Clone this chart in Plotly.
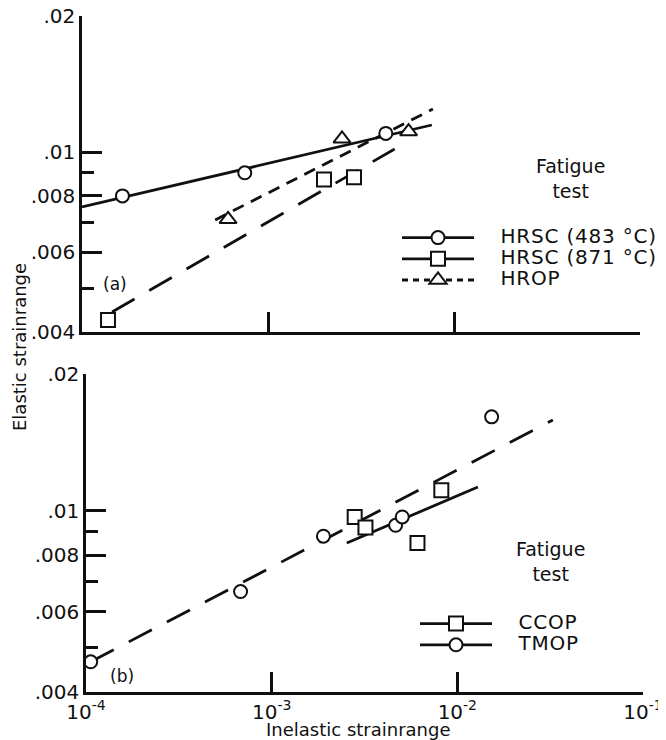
import math
import plotly.graph_objects as go

# ---------------- data: panel (a) ----------------
hrsc483_x = [1.65e-4, 7.5e-4, 4.3e-3]
hrsc483_y = [0.0080, 0.0090, 0.0110]
hrsc483_fit_x = [1.0e-4, 7.6e-3]
hrsc483_fit_y = [0.00756, 0.01148]

hrsc871_x = [1.38e-4, 2.0e-3, 2.9e-3]
hrsc871_y = [0.00425, 0.0087, 0.0088]
hrsc871_fit_x = [1.45e-4, 4.8e-3]
hrsc871_fit_y = [0.00443, 0.01016]

hrop_x = [6.1e-4, 2.5e-3, 5.7e-3]
hrop_y = [0.0071, 0.0107, 0.0111]
hrop_fit_x = [5.2e-4, 7.7e-3]
hrop_fit_y = [0.00708, 0.01245]

# ---------------- data: panel (b) ----------------
ccop_x = [2.8e-3, 3.2e-3, 6.1e-3, 8.2e-3]
ccop_y = [0.0097, 0.0092, 0.0085, 0.0111]
ccop_fit_x = [2.54e-3, 1.29e-2]
ccop_fit_y = [0.0085, 0.01129]

tmop_x = [1.06e-4, 6.8e-4, 1.9e-3, 4.65e-3, 5.05e-3, 1.53e-2]
tmop_y = [0.00466, 0.00665, 0.0088, 0.0093, 0.0097, 0.0161]
tmop_fit_x = [1.06e-4, 3.27e-2]
tmop_fit_y = [0.00466, 0.01585]

# ---------------- ticks ----------------
y_major_vals = [0.004, 0.006, 0.008, 0.01, 0.02]
y_major_text = [".004", ".006", ".008", ".01", ".02"]
y_minor_vals = [0.005, 0.007, 0.009]
x_top_vals = [1e-3, 1e-2, 1e-1]
x_bot_vals = [1e-4, 1e-3, 1e-2, 1e-1]
x_bot_text = ["10<sup>-4</sup>", "10<sup>-3</sup>", "10<sup>-2</sup>", "10<sup>-1</sup>"]

INK = "#101010"
FONT = "DejaVu Sans"
OFF = 8                      # page body margin of the browser
W, H = 666 - OFF, 740 - OFF  # figure fills the rest of the window

LONG = "26px,17px"
SHORT = "12px,8px"

fig = go.Figure()


def fit(x, y, dash, xa, ya):
    fig.add_trace(go.Scatter(x=x, y=y, mode="lines", xaxis=xa, yaxis=ya,
                             line=dict(color=INK, width=2.8, dash=dash),
                             showlegend=False, hoverinfo="skip", cliponaxis=False))


def pts(x, y, symbol, size, xa, ya):
    fig.add_trace(go.Scatter(x=x, y=y, mode="markers", xaxis=xa, yaxis=ya,
                             marker=dict(symbol=symbol, size=size, color="white",
                                         line=dict(color=INK, width=2)),
                             showlegend=False, cliponaxis=False))


def label(name, pad):
    return ('<span style="font-size:20px;letter-spacing:0.8px">'
            + "\u00a0" * pad + name + "</span>")


def proxy(name, symbol, size, dash, legend, pad):
    fig.add_trace(go.Scatter(x=[None], y=[None], mode="lines+markers",
                             name=label(name, pad), legend=legend,
                             line=dict(color=INK, width=2.8, dash=dash),
                             marker=dict(symbol=symbol, size=size, color="white",
                                         line=dict(color=INK, width=2))))


# panel (a)
fit(hrsc483_fit_x, hrsc483_fit_y, "solid", "x", "y")
fit(hrsc871_fit_x, hrsc871_fit_y, LONG, "x", "y")
fit(hrop_fit_x, hrop_fit_y, SHORT, "x", "y")
pts(hrsc483_x, hrsc483_y, "circle", 13, "x", "y")
pts(hrsc871_x, hrsc871_y, "square", 14, "x", "y")
pts(hrop_x, hrop_y, "triangle-up", 15, "x", "y")
proxy("HRSC (483 °C)", "circle", 13, "solid", "legend", 3)
proxy("HRSC (871 °C)", "square", 14, "solid", "legend", 3)
proxy("HROP", "triangle-up", 15, "6px,5px", "legend", 3)

# panel (b)
fit(ccop_fit_x, ccop_fit_y, "solid", "x2", "y2")
fit(tmop_fit_x, tmop_fit_y, LONG, "x2", "y2")
pts(ccop_x, ccop_y, "square", 14, "x2", "y2")
pts(tmop_x, tmop_y, "circle", 13, "x2", "y2")
proxy("CCOP", "square", 14, "solid", "legend2", 3)
proxy("TMOP", "circle", 13, "solid", "legend2", 3)

tickfont = dict(family=FONT, size=20, color=INK)
common = dict(type="log", showgrid=False, zeroline=False, showline=True,
              linecolor=INK, linewidth=2.6, ticks="inside", tickcolor=INK,
              tickwidth=2.6, tickfont=tickfont, automargin=False,
              ticklabeloverflow="allow")
yrange = [math.log10(0.004) - 1e-6, math.log10(0.02) + 1e-6]


def px(v):
    return (v - OFF) / W


def py(v):
    return 1 - (v - OFF) / H


minor_y = dict(tickmode="array", tickvals=y_minor_vals, ticklen=12,
               ticks="inside", tickcolor=INK, tickwidth=2.6)

fig.update_layout(
    width=W, height=H, margin=dict(l=0, r=0, t=0, b=0, autoexpand=False),
    paper_bgcolor="white", plot_bgcolor="white",
    font=dict(family=FONT, color=INK),
    xaxis=dict(common, domain=[px(82), px(640)], anchor="y", range=[-4, -1],
               tickmode="array", tickvals=x_top_vals, ticklen=20,
               showticklabels=False),
    yaxis=dict(common, domain=[py(332), py(16)], anchor="x", range=yrange,
               tickmode="array", tickvals=y_major_vals, ticktext=y_major_text,
               ticklen=20, minor=minor_y),
    xaxis2=dict(common, domain=[px(86), px(643)], anchor="y2", range=[-4, -1],
                tickmode="array", tickvals=x_bot_vals, ticktext=x_bot_text,
                ticklen=20),
    yaxis2=dict(common, domain=[py(692), py(374)], anchor="x2", range=yrange,
                tickmode="array", tickvals=y_major_vals, ticktext=y_major_text,
                ticklen=20, minor=minor_y),
    legend=dict(x=px(397), y=py(222), xanchor="left", yanchor="top",
                font=dict(family=FONT, size=14, color=INK), itemwidth=72,
                bgcolor="rgba(0,0,0,0)", tracegroupgap=0),
    legend2=dict(x=px(415), y=py(608), xanchor="left", yanchor="top",
                 font=dict(family=FONT, size=14, color=INK), itemwidth=72,
                 bgcolor="rgba(0,0,0,0)", tracegroupgap=0),
    showlegend=True,
)

ann = [
    ("Fatigue<br>test", 570, 178, 19, 0),
    ("Fatigue<br>test", 550, 561, 19, 0),
    ("(a)", 115, 284, 17, 0),
    ("(b)", 122, 676, 17, 0),
    ("Elastic strainrange", 19, 347, 18, -90),
    ("Inelastic strainrange", 358, 729, 18, 0),
]
for text, x, y, size, ang in ann:
    fig.add_annotation(text=text, x=px(x), y=py(y), xref="paper", yref="paper",
                       xanchor="center", yanchor="middle", showarrow=False,
                       textangle=ang, font=dict(family=FONT, size=size, color=INK))

fig.write_html("out.html")
